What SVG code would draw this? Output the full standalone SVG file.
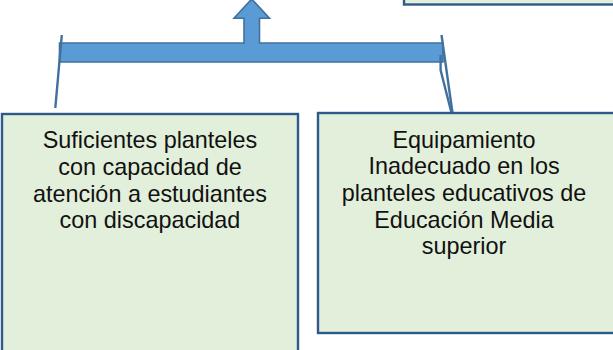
<svg xmlns="http://www.w3.org/2000/svg" width="613" height="350" viewBox="0 0 613 350">
<style>
.box{fill:#E2EFDA;stroke:#2E5A8A;stroke-width:2.4}
.t{font-family:"Liberation Sans",Arial,sans-serif;font-size:23.4px;fill:#111;text-anchor:middle}
.bar{fill:#5B9BD5;stroke:#41719C;stroke-width:1.6;stroke-linejoin:miter}
.ln{fill:none;stroke:#41719C;stroke-width:2.4}
</style>
<rect width="613" height="350" fill="#fff"/>
<g id="top-box">
<rect class="box" x="404" y="-30" width="230" height="34.5"/>
</g>
<g id="connectors">
<path class="bar" d="M59.5,43 L244,43 L244,18.3 L234,18.3 L251.7,-1 L269.5,18.3 L259.5,18.3 L259.5,43 L443,43 L443,62 L59.5,62 Z"/>
<path class="ln" d="M61.8,35 L55.3,108"/>
<path class="ln" d="M441.5,35 L452.5,113"/>
<path class="ln" d="M440.6,55 L440.6,70 L451.5,113"/>
</g>
<g id="box-left">
<rect class="box" x="2" y="114" width="296" height="250"/>
<text class="t" x="150" y="148.3">Suficientes planteles</text>
<text class="t" x="150" y="175">con capacidad de</text>
<text class="t" x="150" y="201.7">atención a estudiantes</text>
<text class="t" x="150" y="228.3">con discapacidad</text>
</g>
<g id="box-right">
<rect class="box" x="318" y="113" width="310" height="220"/>
<text class="t" x="464" y="147.7">Equipamiento</text>
<text class="t" x="464" y="174.4">Inadecuado en los</text>
<text class="t" x="464" y="201">planteles educativos de</text>
<text class="t" x="464" y="227.7">Educación Media</text>
<text class="t" x="464" y="254.4">superior</text>
</g>
</svg>
